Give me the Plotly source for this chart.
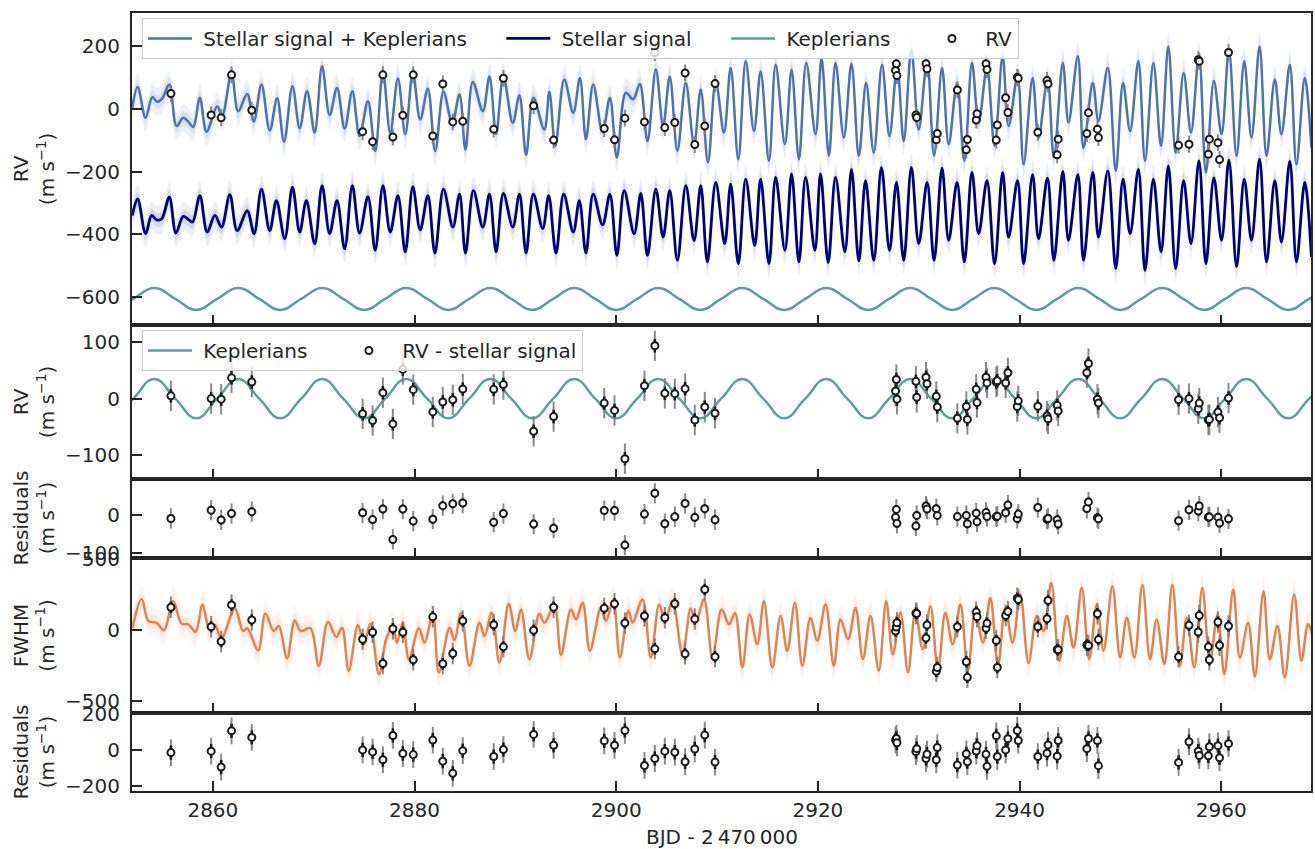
import plotly.graph_objects as go
from plotly.subplots import make_subplots

# ---------------- observations ----------------
t_obs = [2855.84, 2859.83, 2860.82, 2861.85, 2863.86, 2874.85, 2875.84, 2876.86, 2877.85, 2878.84,
         2879.87, 2881.81, 2882.80, 2883.79, 2884.78, 2887.85, 2888.81, 2891.81, 2893.79, 2898.81,
         2899.83, 2900.86, 2902.80, 2903.83, 2904.82, 2905.81, 2906.83, 2907.79, 2908.78, 2909.80,
         2927.70, 2927.78, 2927.84, 2929.72, 2929.80, 2930.72, 2930.82, 2931.74, 2931.84, 2933.83,
         2934.72, 2934.82, 2935.70, 2935.78, 2936.67, 2936.77, 2937.69, 2937.79, 2938.62, 2938.84,
         2939.77, 2939.87, 2941.81, 2942.72, 2942.82, 2943.73, 2943.83, 2946.67, 2946.83, 2947.72,
         2947.82, 2955.77, 2956.80, 2957.72, 2957.82, 2958.72, 2958.82, 2959.67, 2959.83, 2960.72]

rv = [48.5, -20, -29, 108, -5, -73, -105, 108, -90, -21, 108, -87, 79, -42, -40, -65, 97, 9.5, -100, -63,
      -99, -30, -42, 179, -60, -44, 114, -114, -55, 80,
      122, 143, 105.5, -20, -28, 143.6, 127, -99, -79, 60, -131, -98, -36, -16, 143.6, 124.6, -100, -52,
      35, -12, 100, 97, -75, 90, 79, -147, -97, -79, -13, -65, -92, -116, -113, 156, 151, -145, -97,
      -108, -162, 179]

rv_minus_stellar = [5, 0, -1, 37, 29.5, -27, -39, 10.6, -45, 52, 16, -23.6, -6, -2, 17, 16.5, 25, -58, -32,
                    -8, -21, -107, 23, 94, 9.4, 8.8, 17.7, -38, -15, -26,
                    13.6, 34, -1, 30.7, 2.4, 38, 26.5, 4, -15, -35, -14, -37, 16.5, -7, 38, 28, 29.5, 32,
                    28, 46, -14, -4, -13.6, -31, -36, -12, -22, 46, 62.5, -1, -8, -2, 0, -18, -8, -38, -37,
                    -24, -34, 1]

rv_residuals = [-9, 13, -13, 4, 9, 6, -12, 16, -65, 16, -16, -11, 25, 30, 32, -19, 4, -24, -35, 12, 12, -80,
                2.6, 58, -23, -4.5, 31, -6, 17, -12.5,
                -6, 15, -22, -29, -1, 24, 16, 17, -1, -4, -1, -23, 5, -18, 7, -4, -4.5, -3, 6, 26.5, -9, 2.6,
                20, -11, -9, -12.5, -24, 17.5, 35, -7, -10, -15, 14, 10.6, 24, -5.6, -5, -5.6, -21, -10]

fwhm = [160, 23, -81, 176, 70, -65, -16, -235, 9, -16, -209, 93, -237, -165, 65, 37, -118, -2, 160, 153, 184,
        49, 98, -132, 86, 184, -167, 77, 284, -188,
        -7, 21, 51, 118, 116, -56, 35, -290, -263, 23, -223, -332, 126, 93, 12, 47, -74, -263, 102, 130,
        223, 214, 23, 79, 207, -137, -139, -105, -109, 114, -67, -188, 33, -14, 102, -118, -209, 56, -107, 28]

fwhm_residuals = [-15, -7, -96, 107, 70, 0, -11, -55, 81, -20, -26, 55, -63, -131, -4, -37, 2, 87, 26, 51, 26,
                  109, -87, -48, -7, -13, -66, 5.5, 83, -68,
                  55, 64, 40, -9, 7, -48, -24, -55, 13, -85, -22, -66, -6, 24, -24, -92, 79, -37, 0, 63,
                  109, 53, -37, -18, 28, -35, 53, 7, 64, 53, -88, -70, 46, -7, -31, -33, 18, 24, -44, 35]

rv_err_jitter = 27     # grey bars (incl. jitter)
rv_err = 12            # black bars
fwhm_err_jitter = 75
fwhm_err = 40

# ---------------- models ----------------
t_kep = [2850.02, 2852.10, 2854.18, 2856.27, 2858.35, 2860.43, 2862.51, 2864.60, 2866.68, 2868.76, 2870.84,
         2872.93, 2875.01, 2877.09, 2879.17, 2881.26, 2883.34, 2885.42, 2887.50, 2889.59, 2891.67, 2893.75,
         2895.83, 2897.92, 2900.00, 2902.08, 2904.16, 2906.25, 2908.33, 2910.41, 2912.49, 2914.58, 2916.66,
         2918.74, 2920.82, 2922.91, 2924.99, 2927.07, 2929.15, 2931.24, 2933.32, 2935.40, 2937.48, 2939.57,
         2941.65, 2943.73, 2945.81, 2947.90, 2949.98, 2952.06, 2954.14, 2956.23, 2958.31, 2960.39, 2962.47,
         2964.56, 2966.64, 2968.72, 2970.80]
kep = [-35, 0, 35, 0, -35, 0, 35, 0, -35, 0, 35, 0, -35, 0, 35, 0, -35, 0, 35, 0, -35, 0, 35, 0, -35, 0, 35,
       0, -35, 0, 35, 0, -35, 0, 35, 0, -35, 0, 35, 0, -35, 0, 35, 0, -35, 0, 35, 0, -35, 0, 35, 0, -35, 0,
       35, 0, -35, 0, 35]

t_rv_model = [2852.01, 2852.54, 2853.33, 2853.99, 2854.49, 2854.98, 2855.68, 2856.40, 2857.06, 2857.56, 2858.05,
              2858.71, 2859.37, 2860.43, 2860.92, 2861.85, 2862.51, 2863.40, 2864.06, 2864.82, 2865.64, 2866.37,
              2867.06, 2867.89, 2868.61, 2869.34, 2870.10, 2870.83, 2871.58, 2872.31, 2873.07, 2873.83, 2874.55,
              2875.38, 2876.10, 2876.86, 2877.59, 2878.35, 2879.08, 2879.83, 2880.56, 2881.32, 2882.05,
              2882.87, 2883.73, 2884.46, 2885.05, 2885.78, 2886.77, 2887.43, 2888.09, 2888.81, 2889.74, 2890.40,
              2891.06, 2891.78, 2892.87, 2893.37, 2893.96, 2894.85, 2895.74, 2896.40, 2897.00, 2897.72, 2898.65,
              2899.37, 2900.07, 2900.96, 2901.68, 2902.34, 2903.10, 2903.93, 2904.65, 2905.31, 2906.07, 2906.90,
              2907.72, 2908.38, 2909.10, 2909.87, 2910.69, 2911.35, 2912.11, 2912.84, 2913.66, 2914.32, 2915.15,
              2915.81, 2916.73, 2917.39, 2918.12, 2918.84, 2919.77, 2920.36, 2921.09, 2921.75, 2922.57, 2923.33,
              2924.06, 2924.78,
              2925.54, 2926.36, 2927.10, 2927.86, 2928.51, 2929.27, 2930.00, 2930.83, 2931.52, 2932.31, 2932.97,
              2933.80, 2934.52, 2935.28, 2935.94, 2936.77, 2937.52, 2938.32, 2938.91, 2939.80, 2940.40, 2941.29,
              2941.88, 2942.77, 2943.40, 2944.29, 2944.85, 2945.78, 2946.34, 2947.26, 2947.82, 2948.75, 2949.54,
              2950.26, 2950.96, 2951.78, 2952.44, 2953.27, 2954.03, 2954.75, 2955.48, 2956.27, 2957.00, 2957.79,
              2958.48, 2959.27, 2960.03, 2960.76, 2961.52, 2962.28, 2963.00, 2963.80, 2964.49, 2965.31, 2965.97,
              2966.80, 2967.46, 2968.28, 2968.94]
rv_model = [3, 69, -29, 37, 22, 33, 77, -55, -29, -41, -58, 35, -73, 8, -23, 114, -8, 47, -41, 77, -69, 33,
            -105, 72, -62, 56, -76, 135, -20, 66, -63, 56, -87, 24, -135, 119, -76, 96, -81, 114, -34, 64, -135,
            54, -45, 45, -130, 85, -8, 103, -80, 103, -45, 43, -147, 35, -66, 54, -118, 93, -13, 98, -97, 77,
            -75, 35, -155, 51, 30, 79, -103, 125, -55, 103, -134, 82, -113, 61, -171, 87, -76, 130, -161, 151,
            -71, 119, -166, 140, -113, 124, -161, 146, -81, 161, -150, 146, -92, 143, -150, 82,
            -140, 140, -87, 135, -103, 188, -66, 151, -150, 130, -113, 82, -166, 146, -44, 130, -118, 167, -55,
            103, -177, 98, -92, 93, -155, 146, -44, 167, -124, 82, -39, 130, -198, 82, -71, 151, -166, 146,
            -118, 198, -140, 114, -76, 172, -203, 88, -81, 188, -150, 151, -92, 198, -150, 93, -81, 140, -177,
            98, -124]

t_stellar = [2852.01, 2852.54, 2853.33, 2853.93, 2854.42, 2854.92, 2855.68, 2856.34, 2857.06, 2857.62, 2857.99,
             2858.71, 2859.44, 2860.20, 2860.86, 2861.68, 2862.41, 2863.40, 2864.09, 2864.82, 2865.64, 2866.30,
             2867.13, 2867.89, 2868.61, 2869.27, 2870.10, 2870.83, 2871.58, 2872.31, 2873.07, 2873.83, 2874.55,
             2875.38, 2876.10, 2876.86, 2877.59, 2878.35, 2879.08, 2879.83, 2880.56, 2881.32, 2882.02,
             2882.87, 2883.80, 2884.46, 2885.05, 2885.84, 2886.77, 2887.43, 2888.09, 2888.81, 2889.74, 2890.40,
             2891.06, 2891.78, 2892.71, 2893.30, 2894.03, 2894.79, 2895.74, 2896.34, 2897.00, 2897.72, 2898.65,
             2899.37, 2900.07, 2900.79, 2901.78, 2902.44, 2903.10, 2903.93, 2904.65, 2905.31, 2906.07, 2906.90,
             2907.72, 2908.38, 2909.04, 2909.87, 2910.76, 2911.35, 2912.11, 2912.84, 2913.73, 2914.32, 2915.15,
             2915.81, 2916.73, 2917.39, 2918.12, 2918.78, 2919.70, 2920.26, 2921.02, 2921.75, 2922.67, 2923.33,
             2924.06, 2924.72,
             2925.54, 2926.30, 2927.10, 2927.79, 2928.51, 2929.27, 2930.00, 2930.83, 2931.52, 2932.31, 2932.97,
             2933.80, 2934.52, 2935.28, 2935.94, 2936.77, 2937.52, 2938.32, 2938.91, 2939.80, 2940.40, 2941.29,
             2941.88, 2942.77, 2943.40, 2944.29, 2944.85, 2945.78, 2946.34, 2947.26, 2947.82, 2948.75, 2949.54,
             2950.26, 2950.96, 2951.78, 2952.44, 2953.27, 2954.03, 2954.75, 2955.48, 2956.27, 2957.00, 2957.79,
             2958.48, 2959.27, 2960.03, 2960.76, 2961.52, 2962.28, 2963.00, 2963.80, 2964.49, 2965.31, 2965.97,
             2966.80, 2967.46, 2968.28, 2968.94]
stellar_model = [-340, -287, -398, -340, -354, -351, -282, -396, -343, -354, -361, -277, -393, -340, -377, -274,
                 -388, -325, -398, -256, -388, -293, -414, -250, -393, -293, -430, -245, -398, -293, -446, -245,
                 -396, -280, -451, -245, -393, -277, -456, -248, -386, -277, -460,
                 -256, -377, -272, -460, -261, -377, -272, -456, -270, -377, -272, -460, -272, -382, -277, -460,
                 -272, -393, -293, -460, -272, -370, -273, -467, -261, -398, -270, -467, -256, -409, -261, -483,
                 -245, -420, -245, -488, -235, -430, -240, -494, -224, -436, -224, -494, -219, -451, -208, -488,
                 -219, -451, -208, -490, -219, -456, -193, -485, -229,
                 -483, -187, -451, -235, -483, -187, -430, -235, -483, -189, -419, -235, -488, -203, -398, -229,
                 -494, -203, -409, -229, -494, -210, -414, -221, -483, -200, -419, -210, -483, -203, -409, -198,
                 -509, -224, -398, -193, -515, -224, -456, -182, -509, -229, -430, -166, -494, -220, -419, -164,
                 -503, -224, -419, -161, -488, -229, -425, -168, -488, -235, -472]

t_fwhm_model = [2852.01, 2852.94, 2853.60, 2854.42, 2855.15, 2856.07, 2856.90, 2857.56, 2858.28, 2858.98, 2859.64,
                2860.20, 2860.86, 2862.18, 2863.00, 2863.40, 2864.49, 2865.21, 2866.04, 2866.53, 2867.36, 2868.12,
                2868.71, 2869.67, 2870.50, 2871.42, 2872.24, 2872.81, 2873.47, 2874.39, 2874.98, 2875.61, 2876.47,
                2877.19, 2877.85, 2878.25, 2878.84, 2879.44, 2880.43, 2880.99, 2881.81,
                2882.41, 2883.47, 2883.96, 2884.62, 2885.45, 2886.44, 2886.93, 2887.66, 2888.42, 2889.34, 2890.00,
                2890.56, 2891.39, 2892.38, 2892.87, 2893.86, 2894.52, 2895.51, 2896.01, 2896.67, 2897.39, 2898.48,
                2898.98, 2899.70, 2900.36, 2901.22, 2901.62, 2902.61, 2903.43, 2904.26, 2904.85, 2905.58, 2906.57,
                2907.39, 2907.89, 2908.71, 2909.54, 2910.46, 2911.19, 2911.78, 2912.51, 2913.23, 2913.99, 2914.65,
                2915.48, 2916.30, 2916.96, 2917.72, 2918.45, 2919.27, 2919.93, 2920.76, 2921.58, 2922.24, 2923.00,
                2923.73, 2924.46,
                2925.22, 2926.04, 2926.77, 2927.43, 2928.19, 2928.94, 2929.67, 2930.40, 2931.16, 2931.91, 2932.64,
                2933.37, 2934.13, 2934.88, 2935.61, 2936.37, 2937.10, 2937.86, 2938.58, 2939.31, 2940.07, 2940.89,
                2941.72, 2942.38, 2943.14, 2943.93, 2944.69, 2945.35, 2946.17, 2946.90, 2947.66, 2948.32, 2949.21,
                2949.97, 2950.63, 2951.39, 2952.18, 2952.94, 2953.60, 2954.36, 2955.15, 2955.91, 2956.57, 2957.33,
                2958.12, 2958.88, 2959.64, 2960.30, 2961.19, 2961.85, 2962.67, 2963.33, 2964.19, 2964.82, 2965.58,
                2966.30, 2967.23, 2967.95, 2968.61, 2969.11]
fwhm_model = [12, 218, 63, 51, -2, 202, 44, 40, -12, 179, 12, 35, -58, 151, -7, 12, -142, 114, -7, 28, -198, 67,
              -7, 12, -251, 56, -49, 16, -286, 35, -105, 44, -309, -65, 28, -88, 51, -205, 12, -88, 109,
              -298, 16, -72, 121, -251, 51, -42, 121, -228, 184, -7, 144, -205, 114, 51, 167, -174, 144, 74, 191,
              -146, 156, 63, 207, -193, 137, 51, 214, -193, 179, 63, 207, -170, 151, 51, 214, -193, 144, 40, 120,
              -263, 109, -100, 202, -263, 98, -146, 191, -251, 86, -77, 179, -251, 74, -65, 155, -204,
              98, -286, 202, -170, 121, -297, 132, -135, 167, -286, 121, -100, 179, -286, 132, -88, 225, -251,
              155, -88, 249, -232, 98, -7, 330, -216, 98, -123, 295, -205, 179, -146, 307, -193, 86, -193, 318,
              -205, 74, -239, 318, -251, 86, -263, 295, -216, 109, -309, 284, -193, 51, -328, 272, -205, 28, -332,
              249, -216, 40, -53]

KEP_OFFSET = -606           # vertical offset of the Keplerian curve in the top panel
RV_BAND = (22, 45)          # half-widths of shaded bands
FWHM_BAND = (50, 100)

BLUE = '#4C72B0'
NAVY = '#000080'
TEAL = '#5F9EA0'
ORANGE = '#DD8452'
INK = '#262626'
FONT = 'DejaVu Sans'

fig = make_subplots(rows=5, cols=1, shared_xaxes=True, vertical_spacing=0)


def add_band(t, y, widths, rgb, alphas, row):
    for w, a in zip(widths[::-1], alphas):
        fig.add_trace(go.Scatter(x=t, y=[v - w for v in y], mode='lines',
                                 line=dict(width=0, shape='spline'), hoverinfo='skip',
                                 showlegend=False), row=row, col=1)
        fig.add_trace(go.Scatter(x=t, y=[v + w for v in y], mode='lines',
                                 line=dict(width=0, shape='spline'), fill='tonexty',
                                 fillcolor='rgba(%s,%s)' % (rgb, a), hoverinfo='skip',
                                 showlegend=False), row=row, col=1)


def add_data(y, err_tot, err, row, name=None, legend='legend'):
    fig.add_trace(go.Scatter(x=t_obs, y=y, mode='markers', marker=dict(size=7, opacity=0),
                             error_y=dict(type='constant', value=err_tot, color='rgba(125,125,125,0.9)',
                                          thickness=2, width=0),
                             hoverinfo='skip', showlegend=False), row=row, col=1)
    fig.add_trace(go.Scatter(x=t_obs, y=y, mode='markers', name=name,
                             marker=dict(size=7, color='white', line=dict(color='#1a1a1a', width=2)),
                             error_y=dict(type='constant', value=err, color='#1a1a1a', thickness=2.5, width=0),
                             showlegend=name is not None, legend=legend), row=row, col=1)


NB = '\u00a0'
PAD = NB * 4 + '\u2009'

# ---- panel 1 ----
add_band(t_stellar, stellar_model, RV_BAND, '0,0,128', (0.07, 0.09), 1)
add_band(t_rv_model, rv_model, RV_BAND, '76,114,176', (0.10, 0.12), 1)
fig.add_trace(go.Scatter(x=t_rv_model, y=rv_model, mode='lines', name=NB + 'Stellar signal + Keplerians' + PAD,
                         line=dict(color=BLUE, width=2.5, shape='spline')), row=1, col=1)
fig.add_trace(go.Scatter(x=t_stellar, y=stellar_model, mode='lines', name=NB + 'Stellar signal' + PAD,
                         line=dict(color=NAVY, width=2.8, shape='spline')), row=1, col=1)
fig.add_trace(go.Scatter(x=t_kep, y=[v + KEP_OFFSET for v in kep], mode='lines', name=NB + 'Keplerians' + PAD,
                         line=dict(color=TEAL, width=2.5, shape='spline', smoothing=1.3)), row=1, col=1)
add_data(rv, rv_err_jitter, rv_err, 1, name=NB + 'RV')

# ---- panel 2 ----
fig.add_trace(go.Scatter(x=t_kep, y=kep, mode='lines', name=NB + 'Keplerians' + PAD, legend='legend2',
                         line=dict(color=TEAL, width=2.5, shape='spline', smoothing=1.3)), row=2, col=1)
add_data(rv_minus_stellar, rv_err_jitter, rv_err, 2, name=NB + 'RV - stellar signal', legend='legend2')

# ---- panel 3 ----
add_data(rv_residuals, rv_err_jitter, rv_err, 3)

# ---- panel 4 ----
add_band(t_fwhm_model, fwhm_model, FWHM_BAND, '221,132,82', (0.08, 0.10), 4)
fig.add_trace(go.Scatter(x=t_fwhm_model, y=fwhm_model, mode='lines', showlegend=False,
                         line=dict(color=ORANGE, width=2.5, shape='spline')), row=4, col=1)
add_data(fwhm, fwhm_err_jitter, fwhm_err, 4)

# ---- panel 5 ----
add_data(fwhm_residuals, fwhm_err_jitter, fwhm_err, 5)

# ---------------- layout ----------------
H_TOP, H_BOT = 8, 58
PLOT_H = 849 - H_TOP - H_BOT
bottom_px = 849 - H_BOT
edges_px = [8, 322, 477, 556, 713, bottom_px]
domains = [[(bottom_px - edges_px[i + 1]) / PLOT_H, (bottom_px - edges_px[i]) / PLOT_H] for i in range(5)]
domains[0][1] = 1.0
domains[4][0] = 0.0

y_ranges = [[-689, 305], [-143, 131], [-113, 96], [-586, 509], [-230, 204]]
y_dticks = [200, 100, 100, 500, 200]

axis_common = dict(showline=True, mirror=True, linecolor=INK, linewidth=2, ticks='inside', ticklen=10,
                   tickwidth=2, tickcolor=INK, showgrid=False, zeroline=False,
                   tickfont=dict(family=FONT, size=20, color=INK))
for i in range(5):
    fig.update_yaxes(range=y_ranges[i], dtick=y_dticks[i], domain=domains[i], ticklabelstandoff=6,
                     row=i + 1, col=1, **axis_common)
    fig.update_xaxes(range=[2851.98, 2968.9], dtick=20, tick0=2860, row=i + 1, col=1, **axis_common)

annotations = []
title_specs = [('RV', 165), ('RV', 399.5), ('Residuals', 516.5), ('FWHM', 634.5), ('Residuals', 752)]
for txt, ypx in title_specs:
    annotations.append(dict(text=txt + '<br>(m s<sup>\u22121</sup>)', xref='paper', yref='paper',
                            x=(34 - 132) / 1181, y=(bottom_px - ypx) / PLOT_H, xanchor='center',
                            yanchor='middle', textangle=-90, showarrow=False,
                            font=dict(family=FONT, size=20, color=INK)))
annotations.append(dict(text='BJD - 2\u2009470\u2009000', xref='paper', yref='paper', x=0.5,
                        y=(bottom_px - 837) / PLOT_H, xanchor='center', yanchor='middle', showarrow=False,
                        font=dict(family=FONT, size=20, color=INK)))

legend_common = dict(orientation='h', xanchor='left', yanchor='top', bgcolor='rgba(255,255,255,0.8)',
                     bordercolor='#cccccc', borderwidth=1, itemwidth=44, traceorder='normal',
                     font=dict(family=FONT, size=20, color=INK))
fig.update_layout(
    width=1315, height=849,
    margin=dict(l=132, r=2, t=H_TOP, b=H_BOT),
    plot_bgcolor='white', paper_bgcolor='white',
    font=dict(family=FONT, size=20, color=INK),
    annotations=annotations,
    legend=dict(x=(142 - 132) / 1181, y=(bottom_px - 13) / PLOT_H, **legend_common),
    legend2=dict(x=(142 - 132) / 1181, y=(bottom_px - 327) / PLOT_H, **legend_common),
    hovermode=False,
)

fig.write_html('out.html')
